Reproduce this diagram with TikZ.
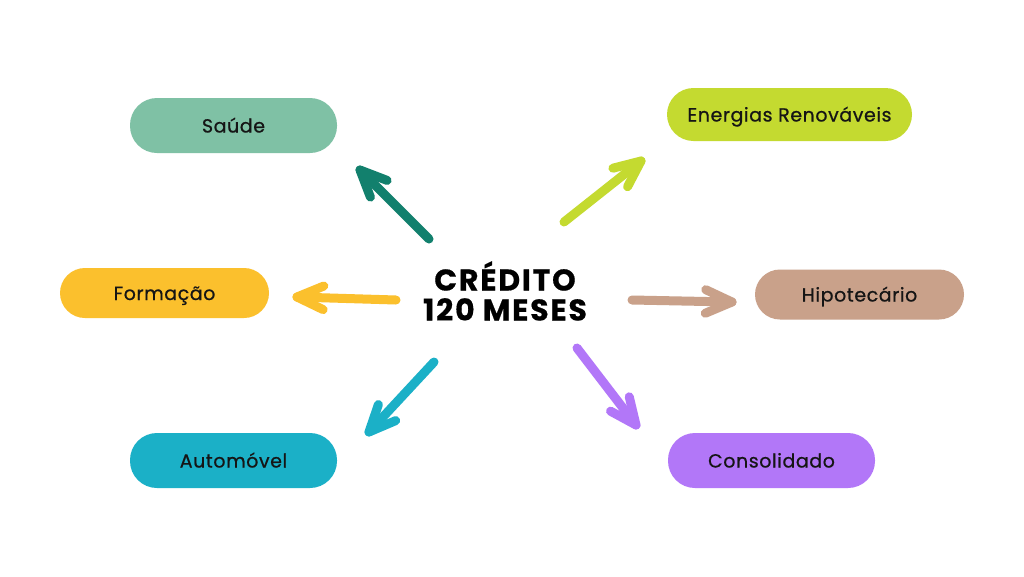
\documentclass[tikz,border=0pt]{standalone}
\usepackage{fontspec}
\setmainfont{Poppins}
\usetikzlibrary{calc}
\definecolor{saudeC}{HTML}{7FC1A5}
\definecolor{saudeA}{HTML}{12806D}
\definecolor{energC}{HTML}{C4DA30}
\definecolor{formC}{HTML}{FBC02D}
\definecolor{hipoC}{HTML}{C9A18A}
\definecolor{autoC}{HTML}{1BB0C7}
\definecolor{consC}{HTML}{B277F8}
\definecolor{txt}{HTML}{151515}
\tikzset{
  pill/.style={rounded corners=#1, inner sep=0pt, text=txt,
    text height=14pt, text depth=0pt,
    font=\fontsize{19}{22}\selectfont\addfontfeatures{LetterSpace=3,FakeBold=0.7}},
  handline/.style={line width=9pt, line cap=round, line join=round},
}
\newcommand{\handarrow}[3]{%
  \draw[handline,#1] (#2) -- (#3);
  \draw[handline,#1] ($(#3)!29pt!24:(#2)$) -- (#3) -- ($(#3)!29pt!-24:(#2)$);
}
\begin{document}
\begin{tikzpicture}[x=1pt,y=-1pt]
\useasboundingbox (0,0) rectangle (1024,576);
\fill[white] (0,0) rectangle (1024,576);
% boxes
\node[pill=27pt, fill=saudeC, minimum width=207pt, minimum height=55pt] (saude) at (233.5,125.5) {Saúde};
\node[pill=26.5pt, fill=energC, minimum width=245pt, minimum height=53pt] (energ) at (789.5,114.5) {Energias Renováveis};
\node[pill=25pt, fill=formC, minimum width=209pt, minimum height=50pt] (form) at (164.5,293) {Formação};
\node[pill=25pt, fill=hipoC, minimum width=209pt, minimum height=50pt] (hipo) at (859.5,294.5) {Hipotecário};
\node[pill=27pt, fill=autoC, minimum width=207pt, minimum height=55pt] (auto) at (233.5,460.5) {Automóvel};
\node[pill=27pt, fill=consC, minimum width=207pt, minimum height=55pt] (cons) at (771.5,460.5) {Consolidado};
% center
\node[align=center, text=black, inner sep=0pt,
  font=\fontsize{30}{30}\selectfont\bfseries\addfontfeatures{LetterSpace=6,FakeBold=0.5}] (center) at (505,291) {CRÉDITO\\120 MESES};
% arrow end points
\coordinate (sT) at (429,239);
\coordinate (sH) at (360,170);
\coordinate (eT) at (564,222);
\coordinate (eH) at (641,161);
\coordinate (fT) at (396,300);
\coordinate (fH) at (297,297);
\coordinate (hT) at (632,300);
\coordinate (hH) at (732,302);
\coordinate (aT) at (434,362);
\coordinate (aH) at (369,432);
\coordinate (cT) at (577,348);
\coordinate (cH) at (636,425);
\handarrow{saudeA}{sT}{sH}
\handarrow{energC}{eT}{eH}
\handarrow{formC}{fT}{fH}
\handarrow{hipoC}{hT}{hH}
\handarrow{autoC}{aT}{aH}
\handarrow{consC}{cT}{cH}
\end{tikzpicture}
\end{document}
